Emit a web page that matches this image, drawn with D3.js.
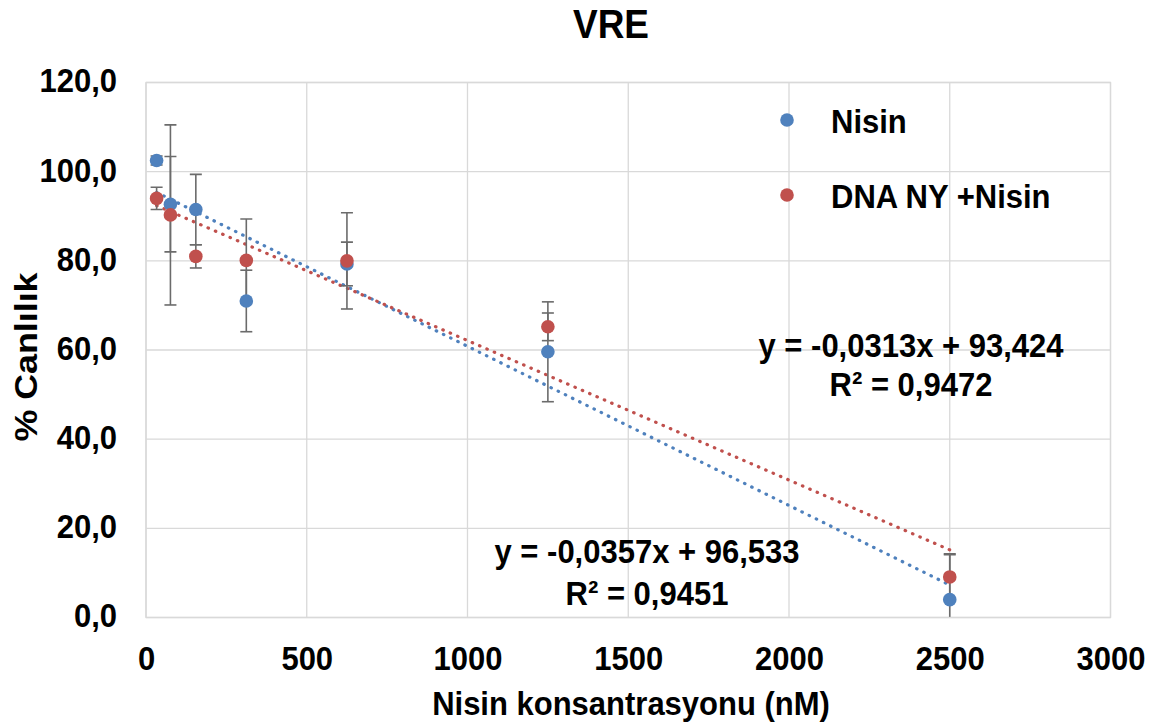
<!DOCTYPE html>
<html>
<head>
<meta charset="utf-8">
<script src="https://cdn.jsdelivr.net/npm/d3@7"></script>
<style>
  html, body { margin: 0; padding: 0; background: #fff; }
  svg { display: block; font-family: "Liberation Sans", Arial, sans-serif; font-weight: bold; }
  .grid line { stroke: #d9d9d9; stroke-width: 1.3; }
  .axis text { font-size: 31px; fill: #000; font-weight: bold; }
  .axis .domain, .axis line { display: none; }
  .err { stroke: #6b6b6b; stroke-width: 1.6; fill: none; }
  .trend { fill: none; stroke-width: 3.2; stroke-linecap: round; stroke-dasharray: 0.5 7.5; }
  .lbl { font-size: 31px; fill: #000; }
</style>
</head>
<body>
<svg id="chart"></svg>
<script>
const concentrations = [33, 76, 155, 312, 625, 1250, 2500];
const nisinValues = [102.5, 92.7, 91.5, 71.0, 79.3, 59.6, 4.0];
const nisinErrors = [1.0, 10.7, 7.9, 6.9, 4.9, 11.2, 10.3];
const dnaNisinValues = [94.0, 90.3, 81.0, 80.1, 80.0, 65.2, 9.1];
const dnaNisinErrors = [2.5, 20.2, 2.6, 9.3, 10.8, 3.1, 5.0];
const seriesNames = ['Nisin', 'DNA NY +Nisin'];
const seriesColors = ['#4f81bd', '#c0504d'];
// trendline coefficients as printed on the chart
const trendSlopes = [-0.0357, -0.0313];
const trendIntercepts = [96.533, 93.424];
const trendLabels = [
  ['y = -0,0357x + 96,533', 'R² = 0,9451'],
  ['y = -0,0313x + 93,424', 'R² = 0,9472'],
];
const xTicks = [0, 500, 1000, 1500, 2000, 2500, 3000];
const yTicks = [0, 20, 40, 60, 80, 100, 120];

const width = 1162;
const height = 726;
const margin = { top: 82.5, right: 51.5, bottom: 108.5, left: 146 };
const plotW = width - margin.left - margin.right;
const plotH = height - margin.top - margin.bottom;
const stretch = 1.08; // text in the picture is a little taller than plain Arial

const svg = d3.select('#chart').attr('width', width).attr('height', height);

const x = d3.scaleLinear().domain([0, 3000]).range([0, plotW]);
const y = d3.scaleLinear().domain([0, 120]).range([plotH, 0]);

const g = svg.append('g').attr('transform', `translate(${margin.left}, ${margin.top})`);

g.append('defs').append('clipPath').attr('id', 'plotClip')
  .append('rect').attr('width', plotW).attr('height', plotH);

// gridlines
const grid = g.append('g').attr('class', 'grid');
grid.selectAll('.gy').data(yTicks).join('line')
  .attr('x1', 0).attr('x2', plotW)
  .attr('y1', (d) => y(d)).attr('y2', (d) => y(d));
grid.selectAll('.gx').data(xTicks).join('line')
  .attr('class', 'gx')
  .attr('y1', 0).attr('y2', plotH)
  .attr('x1', (d) => x(d)).attr('x2', (d) => x(d));

// axes (labels only)
const fmt = (d) => d3.format('.1f')(d).replace('.', ',');
const xAxisG = g.append('g').attr('class', 'axis')
  .attr('transform', `translate(0, ${plotH})`)
  .call(d3.axisBottom(x).tickValues(xTicks).tickSize(0).tickPadding(26.6).tickFormat(d3.format('d')));
const yAxisG = g.append('g').attr('class', 'axis')
  .call(d3.axisLeft(y).tickValues(yTicks).tickSize(0).tickPadding(29).tickFormat(fmt));
xAxisG.selectAll('text').attr('transform', `scale(1, ${stretch})`);
yAxisG.selectAll('text').attr('transform', `scale(1, ${stretch})`).attr('dy', '0.28em');

const series = [
  { name: seriesNames[0], color: seriesColors[0], values: nisinValues, errors: nisinErrors },
  { name: seriesNames[1], color: seriesColors[1], values: dnaNisinValues, errors: dnaNisinErrors },
];

const plot = g.append('g').attr('clip-path', 'url(#plotClip)');

// trendlines
const xMin = d3.min(concentrations);
const xMax = d3.max(concentrations);
series.forEach((s, i) => {
  const pts = [xMin, xMax].map((c) => [c, trendSlopes[i] * c + trendIntercepts[i]]);
  plot.append('path')
    .attr('class', 'trend')
    .attr('stroke', s.color)
    .attr('d', d3.line().x((d) => x(d[0])).y((d) => y(d[1]))(pts));
});

// error bars
const cap = 6;
series.forEach((s) => {
  const eg = plot.append('g').attr('class', 'err');
  s.values.forEach((v, k) => {
    const cx = x(concentrations[k]);
    const top = y(v + s.errors[k]);
    const bot = y(v - s.errors[k]);
    eg.append('line').attr('x1', cx).attr('x2', cx).attr('y1', top).attr('y2', bot);
    eg.append('line').attr('x1', cx - cap).attr('x2', cx + cap).attr('y1', top).attr('y2', top);
    eg.append('line').attr('x1', cx - cap).attr('x2', cx + cap).attr('y1', bot).attr('y2', bot);
  });
});

// points
series.forEach((s) => {
  g.append('g').selectAll('circle').data(s.values).join('circle')
    .attr('cx', (d, k) => x(concentrations[k]))
    .attr('cy', (d) => y(d))
    .attr('r', 6.8)
    .attr('fill', s.color);
});

// plot border
g.append('rect').attr('width', plotW).attr('height', plotH)
  .attr('fill', 'none').attr('stroke', '#d9d9d9').attr('stroke-width', 1.3);

function addText(parent, tx, ty, str, anchor, extra) {
  return parent.append('text').attr('class', 'lbl')
    .attr('text-anchor', anchor || 'start')
    .attr('transform', `translate(${tx}, ${ty}) ${extra || ''} scale(1, ${stretch})`)
    .text(str);
}

// trendline equations
const eqPos = [[647, 563, 605], [911, 357, 396]];
trendLabels.forEach((lines, i) => {
  lines.forEach((t, j) => addText(svg, eqPos[i][0], eqPos[i][j + 1], t, 'middle'));
});

// legend
const legend = svg.append('g');
series.forEach((s, i) => {
  const ly = 120 + i * 75;
  legend.append('circle').attr('cx', 787).attr('cy', ly).attr('r', 6.8).attr('fill', s.color);
  addText(legend, 831, ly + 12.5, s.name);
});

// titles
addText(svg, 611, 38, 'VRE', 'middle').style('font-size', '37px');
addText(svg, 631, 715, 'Nisin konsantrasyonu (nM)', 'middle');
svg.append('text').attr('class', 'lbl').attr('text-anchor', 'middle')
  .attr('transform', 'translate(37, 357) rotate(-90)')
  .attr('textLength', 169).attr('lengthAdjust', 'spacingAndGlyphs')
  .text('% Canlılık');
</script>
</body>
</html>
